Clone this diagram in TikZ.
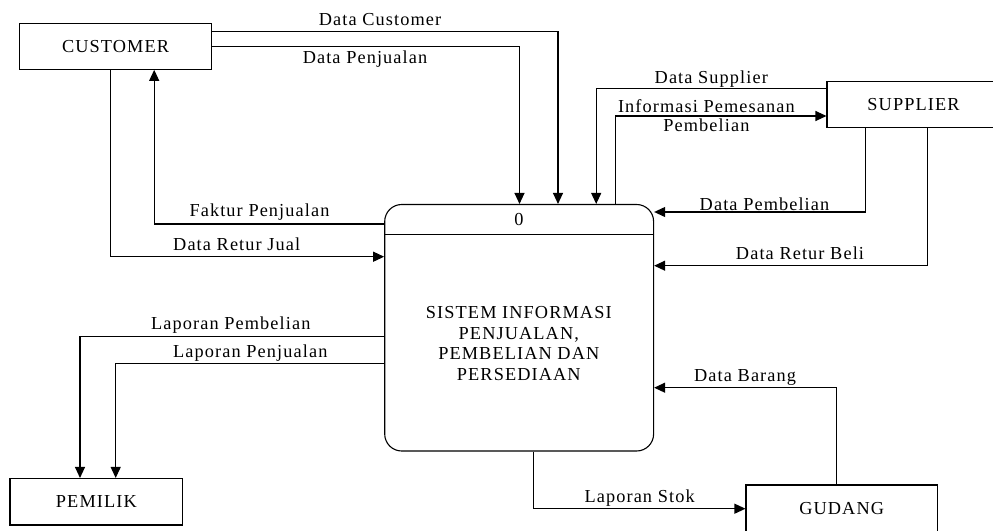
\documentclass[tikz,border=0pt]{standalone}
\usepackage{fontspec}
\setmainfont{Liberation Serif}[LetterSpace=6]
\usetikzlibrary{arrows.meta}
\begin{document}
\begin{tikzpicture}[x=1pt,y=-1pt,
  every node/.style={font=\fontsize{18.3}{20.6}\selectfont},
  entity/.style={draw, line width=1.1pt, inner sep=0pt, text height=12pt, text depth=0pt},
  process/.style={draw, line width=1.1pt, rounded corners=17pt, inner sep=0pt},
  flow/.style={line width=1.1pt, -{Triangle[length=11pt,width=10pt]}},
  link/.style={line width=1.1pt},
  lbl/.style={anchor=base, inner sep=0pt}]
\useasboundingbox (0,0) rectangle (993,530);

% external entities
\node[entity, minimum width=192.1pt, minimum height=45.6pt] (cust) at (115.55,46.5) {CUSTOMER};
\node[entity, minimum width=173pt, minimum height=45.6pt] (sup) at (913.5,104.5) {SUPPLIER};
\node[entity, minimum width=191.3pt, minimum height=46.6pt] (gud) at (841.65,508.3) {GUDANG};
\node[entity, minimum width=172.7pt, minimum height=46.5pt] (pem) at (96.35,501.75) {PEMILIK};

% the process
\node[process, minimum width=268.9pt, minimum height=246.5pt] (proc) at (519.15,327.75) {};
\node[lbl] (ptitle) at (519,225.3) {0};
\draw[link] (proc.west |- 0,234.5) -- (proc.east |- 0,234.5);
\node[align=center, inner sep=0pt] (pname) at (518.8,343.4)
  {SISTEM INFORMASI\\PENJUALAN,\\PEMBELIAN DAN\\PERSEDIAAN};

% customer flows
\draw[flow] (cust.east |- 0,31.3) -| (proc.north -| 558,0);
\draw[flow] (cust.east |- 0,46.7) -| (proc.north -| 519.5,0);
\draw[flow] (proc.west |- 0,224) -| (cust.south -| 154.2,0);
\draw[flow] (cust.south -| 110.2,0) |- (proc.west |- 0,256.7);

% supplier flows
\draw[flow] (sup.west |- 0,88.7) -| (proc.north -| 596.2,0);
\draw[flow] (proc.north -| 615.7,0) |- (sup.west |- 0,116);
\draw[flow] (sup.south -| 865.5,0) |- (proc.east |- 0,212);
\draw[flow] (sup.south -| 927.3,0) |- (proc.east |- 0,265.7);

% owner flows
\draw[flow] (proc.west |- 0,336.3) -| (pem.north -| 80,0);
\draw[flow] (proc.west |- 0,363.3) -| (pem.north -| 115.7,0);

% warehouse flows
\draw[flow] (gud.north -| 836.2,0) |- (proc.east |- 0,387.7);
\draw[flow] (proc.south -| 533.2,0) |- (gud.west |- 0,508.7);

% flow labels
\node[lbl] (lDataCust) at (380,25.7) {Data Customer};
\node[lbl] (lDataJual) at (365,63.3) {Data Penjualan};
\node[lbl] (lFaktur) at (259.5,216.7) {Faktur Penjualan};
\node[lbl] (lReturJual) at (236.7,250) {Data Retur Jual};
\node[lbl] (lDataSup) at (711.3,83.3) {Data Supplier};
\node[align=center, inner sep=0pt, font=\fontsize{18.3}{19.3}\selectfont] (lInfo) at (706.4,115.4)
  {Informasi Pemesanan\\Pembelian};
\node[lbl] (lDataBeli) at (764.5,210) {Data Pembelian};
\node[lbl] (lReturBeli) at (800,259.3) {Data Retur Beli};
\node[lbl] (lLapBeli) at (230.8,329.3) {Laporan Pembelian};
\node[lbl] (lLapJual) at (250.3,357.7) {Laporan Penjualan};
\node[lbl] (lBarang) at (745.1,381.7) {Data Barang};
\node[lbl] (lStok) at (639.6,502.3) {Laporan Stok};
\end{tikzpicture}
\end{document}
